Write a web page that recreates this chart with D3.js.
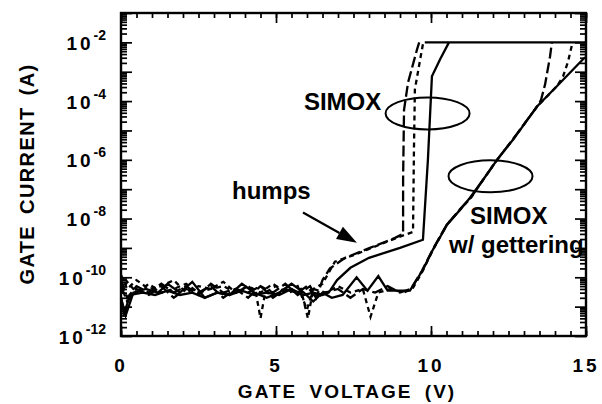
<!DOCTYPE html>
<html>
<head>
<meta charset="utf-8">
<script src="https://cdn.jsdelivr.net/npm/d3@7"></script>
<style>
  body { margin: 0; background: #fff; }
  text { font-family: "Liberation Sans", Arial, sans-serif; font-weight: bold; fill: #000; }
</style>
</head>
<body>
<div id="chart"></div>
<script>
// ---- data: [gate voltage (V), gate current (A)] ----
const simoxSolid = [[0,2e-11],[0.1,6e-12],[0.3,2.5e-11],[0.7,3e-11],[1.1,2.5e-11],[1.5,3.5e-11],[1.9,2.5e-11],[2.3,3e-11],[2.7,2e-11],[3.1,3e-11],[3.5,2.5e-11],[3.9,3.5e-11],[4.3,2.5e-11],[4.7,3e-11],[5.1,2.5e-11],[5.5,4e-11],[5.9,2.5e-11],[6.2,3e-11],[6.5,2.5e-11],[6.7,3e-11],[6.97,8e-11],[7.4,2.1e-10],[8.0,4.6e-10],[9.0,1e-9],[9.74,1.9e-9],[9.9,1e-6],[10.03,7e-4],[10.29,2.6e-3],[10.58,1e-2]];
const simoxLong = [[0,8e-11],[0.2,2e-11],[0.5,5e-11],[0.9,3e-11],[1.3,6e-11],[1.7,3e-11],[2.1,5e-11],[2.5,2.5e-11],[2.9,6e-11],[3.3,3e-11],[3.7,4e-11],[4.1,2e-11],[4.5,5e-11],[4.9,3e-11],[5.3,6e-11],[5.7,2.5e-11],[6.1,5e-11],[6.3,2e-11],[6.5,8e-11],[6.74,2e-10],[7.23,4.6e-10],[8.03,1e-9],[8.84,2.2e-9],[9.1,3e-9],[9.1,2e-7],[9.13,5e-5],[9.26,4.3e-4],[9.55,5.8e-3],[9.62,1e-2]];
const simoxShort = [[0,1.2e-10],[0.2,4e-11],[0.5,8e-11],[0.9,4e-11],[1.3,5e-11],[1.7,8e-11],[2.1,3e-11],[2.5,5e-11],[2.9,4e-11],[3.3,7e-11],[3.7,3e-11],[4.1,5e-11],[4.5,3e-11],[4.9,6e-11],[5.3,3e-11],[5.7,5e-11],[6.0,8e-12],[6.2,4e-11],[6.5,6e-11],[6.9,3.4e-10],[7.55,5.9e-10],[8.35,1.3e-9],[9.16,2.8e-9],[9.42,3.5e-9],[9.45,2.2e-6],[9.48,2.5e-4],[9.65,2.6e-3],[9.75,1e-2]];

const getterSolid = [[0,2e-11],[0.15,5e-12],[0.4,3e-11],[0.8,4e-11],[1.2,3e-11],[1.5,6e-11],[1.9,3e-11],[2.3,7e-11],[2.7,2e-11],[3.1,3e-11],[3.5,2.5e-11],[3.9,6e-11],[4.3,3e-11],[4.7,2e-11],[5.1,3e-11],[5.5,6e-11],[5.9,3e-11],[6.2,1.5e-11],[6.5,3e-11],[6.8,2e-11],[7.15,2.5e-11],[7.6,1e-10],[7.95,3.5e-11],[8.3,1.1e-10],[8.6,3.5e-11],[9.0,3.5e-11],[9.32,3.5e-11],[9.74,1.8e-10],[10.06,8.7e-10],[10.52,6.2e-9],[10.94,2e-8],[11.26,5.1e-8],[11.68,2.1e-7],[12.13,1e-6],[12.65,4.9e-6],[13.42,6.6e-5],[14.06,3.2e-4],[14.81,2.1e-3],[14.97,3.1e-3]];
const getterLong = [[0,5e-11],[0.2,1.5e-11],[0.5,4e-11],[0.9,2.5e-11],[1.3,5e-11],[1.7,2e-11],[2.1,4e-11],[2.5,3e-11],[2.9,5e-11],[3.3,2e-11],[3.7,4e-11],[4.1,3e-11],[4.5,5e-11],[4.9,2e-11],[5.3,4e-11],[5.7,3e-11],[6.0,5e-11],[6.3,2e-11],[6.6,3e-11],[7.0,4e-11],[7.4,2e-11],[7.8,4e-11],[8.2,3e-11],[8.6,5e-11],[9.0,3e-11],[9.35,4e-11],[9.7,1.6e-10],[10.06,9e-10],[10.5,6e-9],[10.94,2.1e-8],[11.3,5.5e-8],[11.7,2.2e-7],[12.1,9e-7],[12.65,5.2e-6],[13.4,6e-5],[13.55,1.1e-4],[13.68,3.7e-4],[13.84,3.3e-3],[13.9,1e-2]];
const getterShort = [[0,3e-11],[0.2,7e-11],[0.5,3e-11],[0.9,6e-11],[1.3,3e-11],[1.7,4e-11],[2.1,6e-11],[2.5,3e-11],[2.9,4e-11],[3.3,5e-11],[3.7,3e-11],[4.1,5e-11],[4.35,3e-11],[4.5,4e-12],[4.65,3e-11],[5.0,5e-11],[5.4,3e-11],[5.8,4e-11],[6.03,4e-12],[6.2,4e-11],[6.6,3e-11],[7.0,5e-11],[7.4,3e-11],[7.8,4e-11],[8.05,4.5e-12],[8.3,3e-11],[8.7,4e-11],[9.1,3e-11],[9.4,4e-11],[9.74,1.7e-10],[10.06,8.5e-10],[10.52,6.4e-9],[10.94,2e-8],[11.3,5.3e-8],[11.68,2.1e-7],[12.13,1e-6],[12.65,5e-6],[13.42,6.5e-5],[14.06,3.2e-4],[14.26,6.9e-4],[14.42,2.2e-3],[14.55,8.5e-3]];

const compliance = [[9.8,1e-2],[15,1e-2]];

const xMajor = [0, 5, 10, 15];
const yLabelExps = [-2, -4, -6, -8, -10, -12];

// annotations (data coordinates)
const labels = [
  { text: "SIMOX", v: 5.9, i: 5.1e-5 },
  { text: "humps", v: 3.58, i: 4.8e-8 },
  { text: "SIMOX", v: 11.26, i: 6.6e-9 },
  { text: "w/ gettering", v: 10.58, i: 6.8e-10 }
];
const ellipses = [{ v: 9.89, i: 3.8e-5 }, { v: 11.92, i: 2.75e-7 }];
const arrow = { from: [5.87, 1.6e-8], to: [7.61, 1.5e-9] };

// ---- layout ----
const W = 602, H = 404;
const plotL = 121, plotR = 586, plotT = 13, plotB = 336;

const svg = d3.select("#chart").append("svg")
    .attr("width", W)
    .attr("height", H);

const x = d3.scaleLinear().domain([0, 15]).range([plotL, plotR]);
const y = d3.scaleLog().domain([1e-12, 1e-1]).range([plotB, plotT]);

// ---- axes (ticks pointing inward) ----
const xMinor = d3.range(0, 15.01, 0.5);
const yMajorTicks = d3.range(-12, 0).map(e => Math.pow(10, e));
const yMinorTicks = [];
d3.range(-12, -1).forEach(e => {
    for (let k = 2; k <= 9; k++) yMinorTicks.push(k * Math.pow(10, e));
});

function axisGroup(axis, tx, ty) {
    const g = svg.append("g")
        .attr("transform", `translate(${tx},${ty})`)
        .call(axis);
    g.select(".domain").remove();
    g.selectAll("line").attr("stroke", "#000").attr("stroke-width", 1.7);
    return g;
}

axisGroup(d3.axisBottom(x).tickValues(xMinor).tickSize(-5).tickFormat(""), 0, plotB);
axisGroup(d3.axisBottom(x).tickValues(xMajor).tickSize(-10).tickFormat(""), 0, plotB);
axisGroup(d3.axisTop(x).tickValues(xMinor).tickSize(-5).tickFormat(""), 0, plotT);
axisGroup(d3.axisTop(x).tickValues(xMajor).tickSize(-10).tickFormat(""), 0, plotT);

axisGroup(d3.axisLeft(y).tickValues(yMinorTicks).tickSize(-6).tickFormat(""), plotL, 0);
axisGroup(d3.axisLeft(y).tickValues(yMajorTicks).tickSize(-11).tickFormat(""), plotL, 0);
axisGroup(d3.axisRight(y).tickValues(yMinorTicks).tickSize(-6).tickFormat(""), plotR, 0);
axisGroup(d3.axisRight(y).tickValues(yMajorTicks).tickSize(-11).tickFormat(""), plotR, 0);

svg.append("rect")
    .attr("x", plotL).attr("y", plotT)
    .attr("width", plotR - plotL).attr("height", plotB - plotT)
    .attr("fill", "none")
    .attr("stroke", "#000")
    .attr("stroke-width", 2.4);

// tick labels
svg.selectAll(".xlab")
    .data(xMajor)
    .enter()
    .append("text")
    .attr("class", "xlab")
    .attr("x", d => x(d))
    .attr("y", 372)
    .attr("text-anchor", "middle")
    .attr("font-size", 19)
    .attr("letter-spacing", 3)
    .text(d => d);

const ylab = svg.selectAll(".ylab")
    .data(yLabelExps)
    .enter()
    .append("text")
    .attr("class", "ylab")
    .attr("x", 106)
    .attr("y", d => y(Math.pow(10, d)) + 7.5)
    .attr("text-anchor", "end")
    .attr("font-size", 19);
ylab.append("tspan").attr("letter-spacing", 3).text("10");
ylab.append("tspan").attr("dy", -10).attr("font-size", 14).text(d => d);

// axis titles
svg.append("text")
    .attr("x", 347)
    .attr("y", 398)
    .attr("text-anchor", "middle")
    .attr("font-size", 19)
    .attr("letter-spacing", 2)
    .attr("word-spacing", 5)
    .text("GATE VOLTAGE (V)");

svg.append("text")
    .attr("transform", "translate(34,174) rotate(-90)")
    .attr("text-anchor", "middle")
    .attr("font-size", 20)
    .attr("letter-spacing", 1.4)
    .attr("word-spacing", 4)
    .text("GATE CURRENT (A)");

// ---- curves ----
const line = d3.line()
    .x(d => x(d[0]))
    .y(d => y(d[1]));

const series = [
    { data: compliance, dash: null },
    { data: simoxSolid, dash: null },
    { data: simoxLong, dash: "11,4" },
    { data: simoxShort, dash: "5,4" },
    { data: getterSolid, dash: null },
    { data: getterLong, dash: "11,4" },
    { data: getterShort, dash: "5,4" }
];

svg.selectAll(".curve")
    .data(series)
    .enter()
    .append("path")
    .attr("class", "curve")
    .attr("d", d => line(d.data))
    .attr("fill", "none")
    .attr("stroke", "#000")
    .attr("stroke-width", 2.3)
    .attr("stroke-linejoin", "miter")
    .attr("stroke-dasharray", d => d.dash);

// ---- annotations ----
svg.selectAll(".ell")
    .data(ellipses)
    .enter()
    .append("ellipse")
    .attr("cx", d => x(d.v))
    .attr("cy", d => y(d.i))
    .attr("rx", 42)
    .attr("ry", 16)
    .attr("fill", "none")
    .attr("stroke", "#000")
    .attr("stroke-width", 2);

svg.selectAll(".ann")
    .data(labels)
    .enter()
    .append("text")
    .attr("class", "ann")
    .attr("x", d => x(d.v))
    .attr("y", d => y(d.i))
    .attr("font-size", 24)
    .text(d => d.text);

const ax0 = x(arrow.from[0]), ay0 = y(arrow.from[1]);
const ax1 = x(arrow.to[0]), ay1 = y(arrow.to[1]);
const ang = Math.atan2(ay1 - ay0, ax1 - ax0);
const headLen = 20, headW = 7;
const bx = ax1 - headLen * Math.cos(ang), by = ay1 - headLen * Math.sin(ang);

svg.append("line")
    .attr("x1", ax0).attr("y1", ay0)
    .attr("x2", bx).attr("y2", by)
    .attr("stroke", "#000")
    .attr("stroke-width", 2.2);

svg.append("path")
    .attr("d", `M${ax1},${ay1}L${bx - headW * Math.sin(ang)},${by + headW * Math.cos(ang)}L${bx + headW * Math.sin(ang)},${by - headW * Math.cos(ang)}Z`)
    .attr("fill", "#000");
</script>
</body>
</html>
